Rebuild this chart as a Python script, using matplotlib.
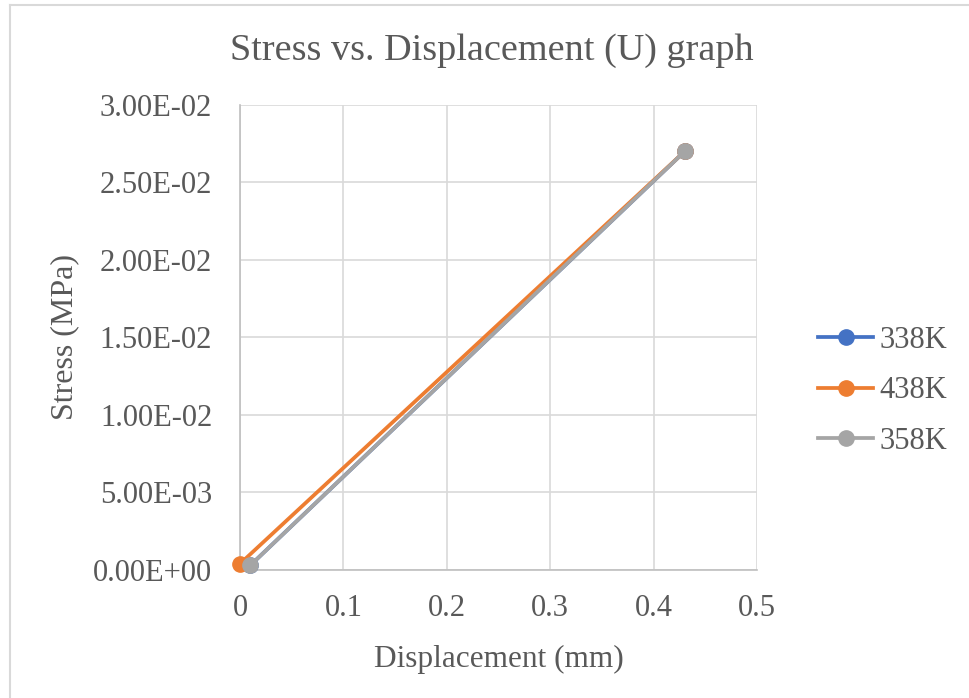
import matplotlib.pyplot as plt
from matplotlib.lines import Line2D

plt.rcParams['font.family'] = ['Liberation Serif', 'DejaVu Serif']

# displacement (mm) and stress (MPa) for each temperature
disp_338 = [0.01, 0.43]
stress_338 = [0.0003, 0.027]
disp_438 = [0.0, 0.43]
stress_438 = [0.0004, 0.027]
disp_358 = [0.01, 0.43]
stress_358 = [0.0003, 0.027]

labels = ['338K', '438K', '358K']
colors = ['#4472c4', '#ed7d31', '#a5a5a5']

xticks = [0, 0.1, 0.2, 0.3, 0.4, 0.5]
xtick_labels = ['0', '0.1', '0.2', '0.3', '0.4', '0.5']
yticks = [0, 0.005, 0.01, 0.015, 0.02, 0.025, 0.03]
ytick_labels = ['0.00E+00', '5.00E-03', '1.00E-02', '1.50E-02',
                '2.00E-02', '2.50E-02', '3.00E-02']

txt = '#595959'
fig = plt.figure(figsize=(9.7, 6.98), dpi=100)
ax = fig.add_axes([0.2474, 0.1834, 0.533, 0.6662])

series = [(disp_338, stress_338), (disp_438, stress_438), (disp_358, stress_358)]
for (x, y), lab, c in zip(series, labels, colors):
    ax.plot(x, y, color=c, lw=2.7, marker='o', ms=11, label=lab,
            solid_capstyle='round', clip_on=False, zorder=3)

ax.set_xlim(0, 0.5)
ax.set_ylim(0, 0.03)
ax.set_xticks(xticks)
ax.set_xticklabels(xtick_labels)
ax.set_yticks(yticks)
ax.set_yticklabels(ytick_labels)
ax.tick_params(length=0, labelsize=22, colors=txt)
ax.tick_params(axis='x', pad=17)
ax.tick_params(axis='y', pad=20)
ax.grid(True, color='#d9d9d9', lw=1.2)
ax.set_axisbelow(True)
for s in ['top', 'right']:
    ax.spines[s].set_visible(False)
for s in ['left', 'bottom']:
    ax.spines[s].set_color('#bfbfbf')
    ax.spines[s].set_linewidth(1.2)

ax.set_xlabel('Displacement (mm)', fontsize=22.5, color=txt, labelpad=16)
ax.set_ylabel('Stress (MPa)', fontsize=23, color=txt, labelpad=10)
fig.text(0.507, 0.928, 'Stress vs. Displacement (U) graph', fontsize=27.5,
         color=txt, ha='center', va='center')

handles = [Line2D([], [], color=c, lw=2.7, marker='o', ms=11) for c in colors]
leg = fig.legend(handles, labels, loc='center left', bbox_to_anchor=(0.815, 0.44),
                 frameon=False, fontsize=22, handlelength=1.8, labelspacing=0.7,
                 handletextpad=0.2)
for t in leg.get_texts():
    t.set_color(txt)

# chart frame
fig.add_artist(Line2D([0.0098, 0.0098], [0.0, 0.993], color='#d9d9d9', lw=1.5,
                      transform=fig.transFigure))
fig.add_artist(Line2D([0.0098, 1.0], [0.993, 0.993], color='#d9d9d9', lw=1.5,
                      transform=fig.transFigure))

fig.savefig('out.png', dpi=100)
